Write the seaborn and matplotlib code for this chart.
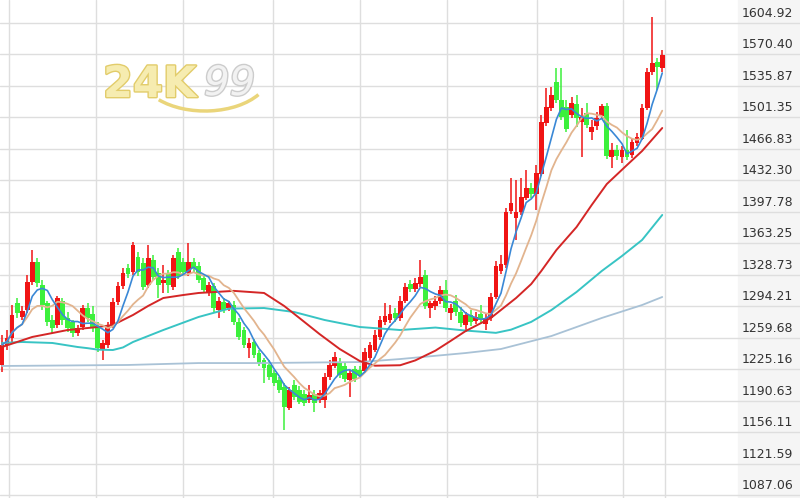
import matplotlib
matplotlib.use('Agg')
import matplotlib.pyplot as plt
import matplotlib.transforms as mtransforms
from matplotlib.patches import Rectangle, Arc
import matplotlib.patheffects as pe
import numpy as np
import pandas as pd
import seaborn as sns

# daily candles (oldest -> newest)
opens = [1230, 1252, 1259, 1298, 1282, 1290, 1321, 1343, 1317, 1298,
         1279, 1274, 1300, 1281, 1277, 1265, 1271, 1292, 1286, 1273,
         1246, 1252, 1273, 1299, 1316, 1336, 1332, 1348, 1342, 1317,
         1345, 1331, 1320, 1331, 1315, 1354, 1343, 1331, 1343, 1338,
         1325, 1309, 1316, 1290, 1299, 1292, 1296, 1277, 1268, 1248,
         1255, 1243, 1235, 1230, 1221, 1213, 1206, 1183, 1208, 1202,
         1198, 1191, 1198, 1191, 1191, 1217, 1229, 1233, 1229, 1213,
         1225, 1224, 1223, 1237, 1246, 1260, 1277, 1279, 1287, 1281,
         1300, 1319, 1313, 1319, 1328, 1292, 1294, 1300, 1312, 1287,
         1300, 1288, 1274, 1285, 1278, 1286, 1275, 1281, 1304, 1333,
         1339, 1399, 1391, 1397, 1413, 1424, 1417, 1439, 1495, 1511,
         1540, 1520, 1513, 1504, 1516, 1496, 1506, 1485, 1492, 1503,
         1514, 1458, 1465, 1458, 1465, 1460, 1473, 1478, 1511, 1551,
         1562, 1555]
highs = [1263, 1268, 1296, 1303, 1294, 1328, 1356, 1347, 1323, 1300,
         1285, 1305, 1303, 1288, 1279, 1274, 1296, 1298, 1294, 1277,
         1257, 1277, 1303, 1321, 1336, 1340, 1365, 1354, 1347, 1361,
         1350, 1336, 1339, 1334, 1350, 1358, 1347, 1364, 1347, 1343,
         1327, 1321, 1320, 1304, 1303, 1300, 1300, 1281, 1271, 1259,
         1258, 1246, 1237, 1235, 1224, 1217, 1210, 1206, 1213, 1207,
         1202, 1208, 1202, 1202, 1221, 1235, 1244, 1237, 1233, 1224,
         1229, 1229, 1248, 1255, 1268, 1283, 1298, 1296, 1292, 1305,
         1320, 1323, 1325, 1345, 1334, 1300, 1305, 1316, 1323, 1297,
         1306, 1293, 1288, 1290, 1288, 1296, 1286, 1309, 1344, 1350,
         1402, 1435, 1433, 1435, 1443, 1429, 1449, 1504, 1533, 1534,
         1555, 1555, 1520, 1524, 1526, 1511, 1517, 1498, 1507, 1516,
         1517, 1473, 1471, 1470, 1487, 1477, 1484, 1516, 1555, 1611,
         1566, 1575]
lows = [1222, 1246, 1255, 1281, 1279, 1287, 1317, 1315, 1290, 1273,
        1265, 1270, 1274, 1266, 1260, 1262, 1268, 1277, 1266, 1244,
        1235, 1248, 1270, 1296, 1313, 1325, 1328, 1327, 1312, 1314,
        1323, 1303, 1309, 1309, 1312, 1324, 1327, 1327, 1332, 1320,
        1309, 1305, 1288, 1281, 1287, 1289, 1274, 1257, 1248, 1237,
        1237, 1229, 1210, 1213, 1207, 1199, 1159, 1180, 1191, 1187,
        1185, 1188, 1178, 1188, 1183, 1213, 1227, 1216, 1211, 1195,
        1211, 1216, 1221, 1234, 1244, 1257, 1274, 1276, 1277, 1278,
        1298, 1310, 1310, 1315, 1291, 1281, 1290, 1297, 1288, 1279,
        1283, 1271, 1266, 1273, 1275, 1276, 1268, 1278, 1302, 1330,
        1336, 1395, 1367, 1394, 1411, 1413, 1400, 1437, 1492, 1508,
        1517, 1498, 1485, 1500, 1491, 1458, 1490, 1476, 1487, 1499,
        1456, 1446, 1454, 1451, 1454, 1457, 1470, 1476, 1509, 1548,
        1531, 1551]
closes = [1252, 1259, 1285, 1287, 1289, 1321, 1343, 1320, 1296, 1277,
          1270, 1303, 1279, 1270, 1265, 1270, 1292, 1281, 1270, 1248,
          1254, 1273, 1299, 1316, 1331, 1330, 1361, 1332, 1315, 1347,
          1326, 1317, 1323, 1317, 1347, 1327, 1332, 1343, 1336, 1323,
          1312, 1317, 1292, 1300, 1290, 1298, 1277, 1260, 1252, 1254,
          1241, 1232, 1227, 1217, 1210, 1202, 1184, 1202, 1195, 1189,
          1188, 1197, 1188, 1199, 1217, 1230, 1239, 1219, 1214, 1221,
          1214, 1219, 1244, 1252, 1263, 1279, 1283, 1286, 1281, 1300,
          1315, 1313, 1320, 1326, 1294, 1298, 1300, 1312, 1292, 1292,
          1288, 1276, 1285, 1277, 1282, 1279, 1281, 1304, 1338, 1340,
          1397, 1407, 1397, 1414, 1424, 1417, 1440, 1496, 1513, 1526,
          1520, 1502, 1488, 1517, 1500, 1502, 1493, 1491, 1500, 1514,
          1459, 1465, 1459, 1465, 1458, 1474, 1480, 1511, 1551, 1561,
          1556, 1570]

# longer moving averages (candle index, price)
ma20_idx = [0, 6, 10, 13, 19, 22, 26, 29, 32, 36, 39, 46, 52, 56, 59, 63, 67,
            71, 74, 79, 82, 86, 89, 92, 97, 102, 105, 107, 110, 114, 117, 120,
            124, 127, 131]
ma20_val = [1249.5, 1260.5, 1264.8, 1268.1, 1271.4, 1273.6, 1284.6, 1294.5,
            1303.2, 1306.5, 1308.7, 1311.0, 1308.7, 1294.4, 1281.3, 1263.7,
            1247.3, 1234.1, 1229.0, 1229.5, 1234.8, 1245.5, 1256.1, 1267.0,
            1281.3, 1303.2, 1318.5, 1332.8, 1355.8, 1381.0, 1405.1, 1428.1,
            1448.9, 1464.3, 1489.5]
ma60_idx = [0, 4, 10, 15, 17, 19, 22, 24, 26, 32, 39, 45, 52, 58, 64, 71, 79,
            86, 92, 98, 101, 105, 109, 114, 119, 123, 127, 131]
ma60_val = [1253.9, 1255.0, 1253.9, 1249.5, 1248.2, 1246.6, 1246.2, 1249.0,
            1255.0, 1268.1, 1282.4, 1291.5, 1292.2, 1287.8, 1279.1, 1271.4,
            1268.1, 1270.8, 1267.5, 1265.0, 1268.5, 1277.0, 1290.0, 1309.8,
            1332.8, 1349.2, 1366.8, 1394.2]
ma120_idx = [0, 25, 39, 51, 71, 79, 92, 99, 109, 119, 127, 131]
ma120_val = [1228.7, 1229.8, 1231.9, 1231.9, 1233.0, 1236.3, 1242.9, 1247.3,
             1261.5, 1281.3, 1295.5, 1304.3]

price_ticks = [1087.06, 1121.59, 1156.11, 1190.63, 1225.16, 1259.68, 1294.21,
               1328.73, 1363.25, 1397.78, 1432.30, 1466.83, 1501.35, 1535.87,
               1570.40, 1604.92]

RED = '#f01414'
GREEN = '#3cf03c'

df = pd.DataFrame({'open': opens, 'high': highs, 'low': lows, 'close': closes})
df['idx'] = np.arange(len(df))
df['ma5'] = df['close'].rolling(5, min_periods=1).mean()
df['ma10'] = df['close'].rolling(10, min_periods=1).mean()

sns.set_style('white')
fig = plt.figure(figsize=(8, 4.98), dpi=100)
ax = fig.add_axes([0, 0, 1, 1])

step = 5.04  # pixels per candle
xlim = (-2 / step, (800 - 2) / step)
ylim = (1084.0, 1629.8)
ax.set_axis_off()

# price-scale panel on the right
ax.add_patch(Rectangle((738 / 800, 0), 62 / 800, 1, transform=ax.transAxes,
                       color='#f5f5f5', zorder=0))

# grid
for t in price_ticks:
    ax.axhline(t, color='#dedede', lw=1, zorder=1)
for px in [9, 96, 183, 273, 360, 447, 537, 623, 665]:
    ax.axvline((px - 2) / step, color='#dedede', lw=1, zorder=1)

# watermark
ax.text(103 / 800, 1 - 97 / 498, '24K', transform=ax.transAxes, fontsize=31,
        fontweight='bold', color='#f6ecb0', va='baseline', zorder=1.5,
        path_effects=[pe.withStroke(linewidth=2, foreground='#e2cc6a')])
ax.text(204 / 800, 1 - 95 / 498, '99', transform=ax.transAxes, fontsize=29,
        fontstyle='italic', color='#f2f2f2', va='baseline', zorder=1.5,
        path_effects=[pe.withStroke(linewidth=2, foreground='#cccccc')])
ax.add_patch(Arc((205, 425), 130, 76, theta1=210, theta2=338,
                 transform=mtransforms.IdentityTransform(),
                 color='#ead57a', lw=2.5, zorder=1.5))

# candles
colors = np.where(df['close'] >= df['open'], RED, GREEN)
ax.vlines(df['idx'], df['low'], df['high'], colors=colors, lw=1.1, zorder=2)
body = (df['close'] - df['open']).abs().clip(lower=1.5)
ax.bar(df['idx'], body, bottom=df[['open', 'close']].min(axis=1), width=0.95,
       color=colors, linewidth=0, zorder=3)

# moving averages
line_kw = dict(ax=ax, sort=False, solid_joinstyle='round', solid_capstyle='round')
sns.lineplot(x=ma120_idx, y=ma120_val, color='#a9c2d6', lw=1.3, zorder=4, **line_kw)
sns.lineplot(x=ma60_idx, y=ma60_val, color='#38c4c4', lw=1.4, zorder=4, **line_kw)
sns.lineplot(x=ma20_idx, y=ma20_val, color='#d42626', lw=1.4, zorder=4, **line_kw)
sns.lineplot(data=df, x='idx', y='ma10', color='#e2b48e', lw=1.3, zorder=5, **line_kw)
sns.lineplot(data=df, x='idx', y='ma5', color='#3a88d6', lw=1.2, zorder=6, **line_kw)
ax.set_xlim(*xlim)
ax.set_ylim(*ylim)

# price labels sit just above their grid lines
trans = mtransforms.blended_transform_factory(ax.transAxes, ax.transData)
trans = mtransforms.offset_copy(trans, fig=fig, x=0, y=9.5, units='dots')
for t in price_ticks:
    ax.text(742 / 800, t, f'{t:.2f}', transform=trans, ha='left', va='center',
            fontsize=9, color='#333333', zorder=7)

fig.savefig('out.png', dpi=100)
